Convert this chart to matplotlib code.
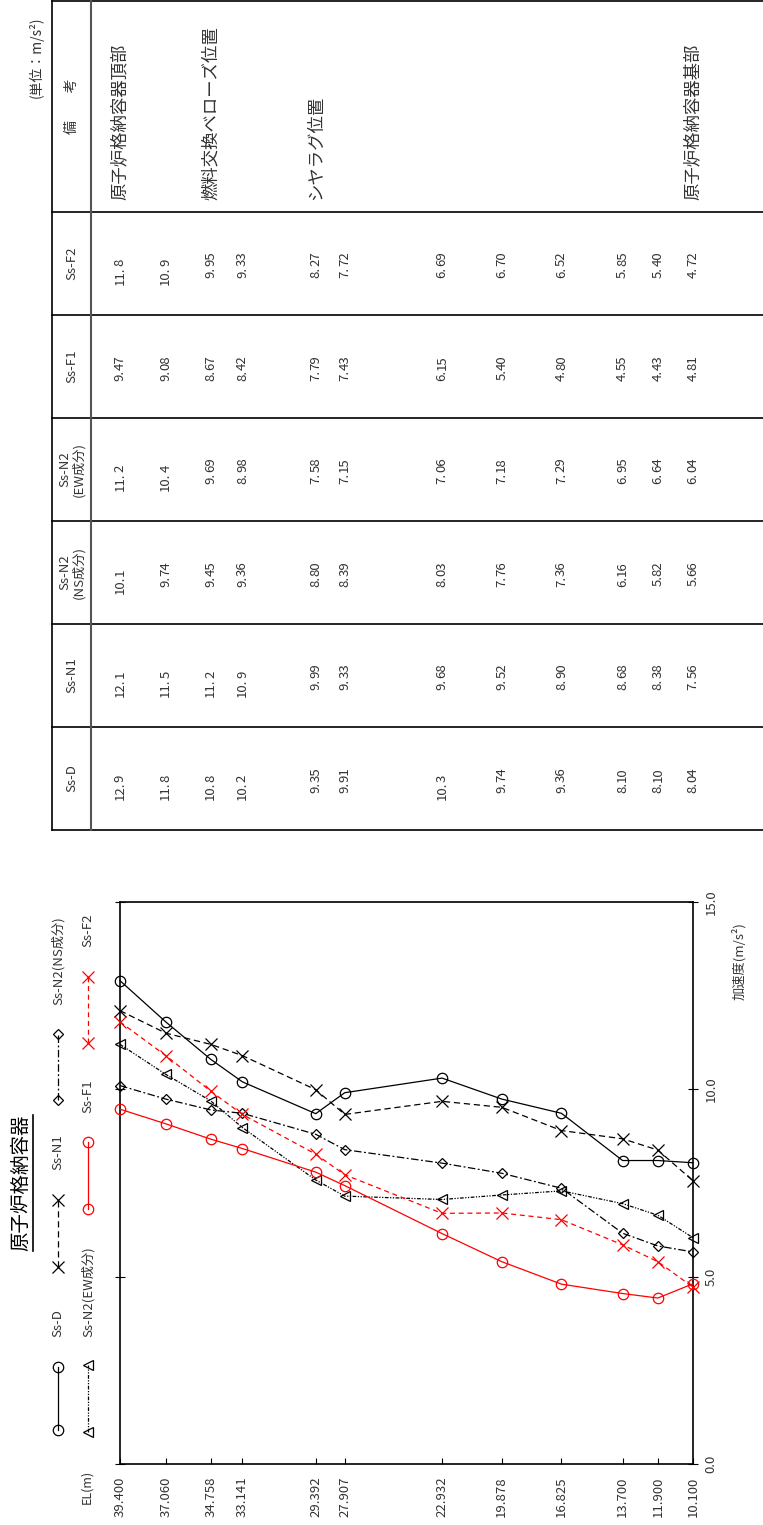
import matplotlib.pyplot as plt
from matplotlib.lines import Line2D
from matplotlib.transforms import blended_transform_factory

plt.rcParams['font.family'] = ['Noto Sans CJK JP', 'DejaVu Sans']

# elevations (m) and response accelerations (m/s2)
el = [39.400, 37.060, 34.758, 33.141, 29.392, 27.907, 22.932, 19.878, 16.825, 13.700, 11.900, 10.100]
el_labels = ["39.400", "37.060", "34.758", "33.141", "29.392", "27.907",
             "22.932", "19.878", "16.825", "13.700", "11.900", "10.100"]

ss_d = [12.9, 11.8, 10.8, 10.2, 9.35, 9.91, 10.3, 9.74, 9.36, 8.10, 8.10, 8.04]
ss_n1 = [12.1, 11.5, 11.2, 10.9, 9.99, 9.33, 9.68, 9.52, 8.90, 8.68, 8.38, 7.56]
ss_n2_ns = [10.1, 9.74, 9.45, 9.36, 8.80, 8.39, 8.03, 7.76, 7.36, 6.16, 5.82, 5.66]
ss_n2_ew = [11.2, 10.4, 9.69, 8.98, 7.58, 7.15, 7.06, 7.18, 7.29, 6.95, 6.64, 6.04]
ss_f1 = [9.47, 9.08, 8.67, 8.42, 7.79, 7.43, 6.15, 5.40, 4.80, 4.55, 4.43, 4.81]
ss_f2 = [11.8, 10.9, 9.95, 9.33, 8.27, 7.72, 6.69, 6.70, 6.52, 5.85, 5.40, 4.72]

remark_el = [39.400, 34.758, 29.392, 10.100]
remark_text = ["原子炉格納容器頂部", "燃料交換ベローズ位置", "シヤラグ位置", "原子炉格納容器基部"]

W, H = 763, 1525


def fx(px):
    return px / W


def fy(py):
    return 1 - py / H


def fmt(v):
    return f"{v:.1f}" if v >= 10 else f"{v:.2f}"


fig = plt.figure(figsize=(W / 100, H / 100), dpi=100)

# ---- chart ----
ax = fig.add_axes([fx(120), fy(1464), (693 - 120) / W, (1464 - 902) / H])

series = [
    ("Ss-D", ss_d, dict(color="black", ls="-", marker="o", ms=7.5)),
    ("Ss-N1", ss_n1, dict(color="black", ls=(0, (5, 3)), marker="x", ms=8)),
    ("Ss-N2(NS成分)", ss_n2_ns, dict(color="black", ls=(0, (6, 2, 1.5, 2)), marker="D", ms=5.5)),
    ("Ss-N2(EW成分)", ss_n2_ew, dict(color="black", ls=(0, (3, 1.2, 1, 1.2, 1, 1.2)), marker="<", ms=7)),
    ("Ss-F1", ss_f1, dict(color="red", ls="-", marker="o", ms=7.5)),
    ("Ss-F2", ss_f2, dict(color="red", ls=(0, (4, 3)), marker="x", ms=8)),
]

for name, vals, st in series:
    ax.plot(el, vals, lw=0.9, mfc="none", mew=0.9, clip_on=False, zorder=3, **st)

ax.set_xlim(39.4, 10.1)
ax.set_ylim(0, 15)
ax.set_xticks(el)
ax.set_xticklabels(el_labels, rotation=90, fontsize=9.5, color="#333333")
ax.set_yticks([0, 5, 10, 15])
ax.set_yticklabels(["0.0", "5.0", "10.0", "15.0"], fontsize=9.5, color="#333333")
ax.tick_params(axis="x", direction="in", length=4, pad=9)
ax.tick_params(axis="y", direction="inout", length=7, left=True, right=True,
               labelleft=False, labelright=True, pad=5)
for lbl in ax.get_yticklabels():
    lbl.set_rotation(90)
    lbl.set_va("center")
for sp in ax.spines.values():
    sp.set_linewidth(1.2)

fig.text(fx(87), fy(1470), "EL(m)", rotation=90, ha="center", va="top", fontsize=9, color="#333333")
fig.text(fx(739), fy(1000), "加速度(m/s²)", rotation=90, ha="center", va="bottom", fontsize=9.5, color="#333333")

# ---- title ----
title = fig.text(fx(21), fy(1251), "原子炉格納容器", rotation=90, ha="center", va="bottom", fontsize=14)

# ---- legend ----
# (x, swatch start, swatch end, text start) in page pixels
leg_pos = [
    (58, 1430, 1367, 1337),
    (58, 1267, 1200, 1170),
    (58, 1100, 1034, 1005),
    (88, 1432, 1365, 1337),
    (88, 1209, 1142, 1113),
    (88, 1043, 977, 947),
]
for (name, vals, st), (x, y0, y1, yt) in zip(series, leg_pos):
    fig.add_artist(Line2D([fx(x), fx(x)], [fy(y0), fy(y1)], transform=fig.transFigure,
                          lw=0.9, mfc="none", mew=0.9, **st))
    fig.text(fx(x), fy(yt), name, rotation=90, ha="center", va="bottom", fontsize=9.5, color="#333333")

# ---- table ----
bands = [1, 212, 315, 418, 521, 624, 727, 830]
columns = [
    ("Ss-F2", ss_f2),
    ("Ss-F1", ss_f1),
    ("Ss-N2\n(EW成分)", ss_n2_ew),
    ("Ss-N2\n(NS成分)", ss_n2_ns),
    ("Ss-N1", ss_n1),
    ("Ss-D", ss_d),
]

tl = dict(transform=fig.transFigure, color="black", lw=1.2)
for b in bands:
    fig.add_artist(Line2D([fx(52), fx(763)], [fy(b), fy(b)], **tl))
fig.add_artist(Line2D([fx(52), fx(52)], [fy(1), fy(830)], **tl))
fig.add_artist(Line2D([fx(91), fx(91)], [fy(1), fy(830)], transform=fig.transFigure, color="#555555", lw=1.5))

trans = blended_transform_factory(ax.transData, fig.transFigure)

fig.text(fx(72), fy(106), "備　　考", rotation=90, ha="center", va="center", fontsize=10, color="#333333")
for x, txt in zip(remark_el, remark_text):
    fig.text(x, fy(200), txt, transform=trans, rotation=90, ha="center", va="bottom",
             fontsize=12.5, color="#333333")

for i, (head, vals) in enumerate(columns):
    top, bot = bands[i + 1], bands[i + 2]
    mid = (top + bot) / 2
    fig.text(fx(72), fy(mid), head, rotation=90, ha="center", va="center", fontsize=9.5,
             color="#333333", multialignment="center", linespacing=1.0)
    dp = mid + 3
    for x, v in zip(el, vals):
        s = fmt(v)
        ip, fp = s.split(".")
        fig.text(x, fy(dp), ip + ".", transform=trans, rotation=90, ha="center", va="top",
                 fontsize=9.5, color="#333333")
        fig.text(x, fy(dp), fp, transform=trans, rotation=90, ha="center", va="bottom",
                 fontsize=9.5, color="#333333")

fig.text(fx(36), fy(57), "(単位：m/s²)", rotation=90, ha="center", va="center", fontsize=10, color="#333333")

# underline for the title
fig.canvas.draw()
bb = title.get_window_extent(fig.canvas.get_renderer())
fig.add_artist(Line2D([bb.x1 + 1, bb.x1 + 1], [bb.y0, bb.y1], transform=None, color="black", lw=1.2))

fig.savefig("out.png", dpi=100)
